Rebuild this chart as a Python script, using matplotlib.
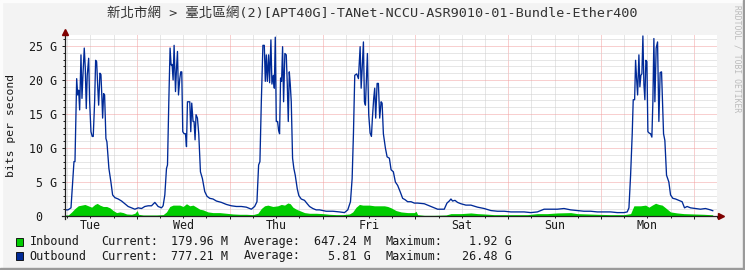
import matplotlib
matplotlib.use('Agg')
import matplotlib.pyplot as plt
from matplotlib.patches import Rectangle
import matplotlib.transforms as mtransforms

W, H = 745, 270

title = '新北市網 > 臺北區網(2)[APT40G]-TANet-NCCU-ASR9010-01-Bundle-Ether400'
y_label = 'bits per second'
watermark = 'RRDTOOL / TOBI OETIKER'

day_names = ['Tue', 'Wed', 'Thu', 'Fri', 'Sat', 'Sun', 'Mon']
day_noon_hours = [-12, 12, 36, 60, 84, 108, 132]
midnight_hours = [0, 24, 48, 72, 96, 120, 144]
six_hour_marks = [-18, -12, -6, 6, 12, 18, 30, 36, 42, 54, 60, 66, 78, 84, 90,
                  102, 108, 114, 126, 132, 138, 150]

y_ticks = [0, 5, 10, 15, 20, 25]
y_tick_labels = ['0\u00a0\u00a0', '5 G', '10 G', '15 G', '20 G', '25 G']
y_minor = [1, 2, 3, 4, 6, 7, 8, 9, 11, 12, 13, 14, 16, 17, 18, 19, 21, 22, 23, 24, 26]

# time in hours relative to Wednesday 00:00, values in Gbit/s
out_hours = [-18.58, -17.81, -17.03, -16.59, -16.26, -16.0, -15.56, -15.30, -15.05, -14.79,
             -14.45, -14.19, -13.94, -13.60, -13.34, -13.08, -12.83, -12.46, -12.21, -11.87,
             -11.54, -11.28, -10.92, -10.66, -10.40, -10.14, -9.88, -9.55, -9.29, -9.03,
             -8.85, -8.59, -8.34, -8.0, -7.74, -7.23, -6.71, -6.27, -5.68, -4.83,
             -3.95, -3.10, -2.25, -1.37, -0.52, 0.34, 1.21, 2.06, 2.92, 3.79,
             4.65, 5.50, 6.37, 6.79, 7.23, 7.66, 7.92, 8.26, 8.59, 8.85,
             9.11, 9.37, 9.63, 9.99, 10.25, 10.50, 10.76, 11.10, 11.35, 11.61,
             11.87, 12.21, 12.57, 12.83, 13.08, 13.68, 13.94, 14.19, 14.53, 14.79,
             15.05, 15.30, 15.66, 16.0, 16.44, 16.95, 17.55, 18.14, 18.84, 19.69,
             20.57, 21.86, 23.15, 24.44, 25.73, 27.02, 28.31, 29.60, 30.45, 31.05,
             31.48, 31.82, 32.18, 32.59, 32.95, 33.21, 33.47, 33.73, 34.06, 34.32,
             34.66, 34.92, 35.28, 35.54, 35.79, 36.05, 36.39, 36.65, 36.90, 37.16,
             37.42, 37.68, 37.94, 38.27, 38.63, 38.89, 39.15, 39.41, 39.66, 39.92,
             40.26, 40.59, 40.95, 41.47, 41.88, 42.50, 43.35, 44.05, 44.65, 45.50,
             46.37, 47.23, 48.95, 50.66, 52.39, 53.68, 54.53, 55.23, 55.66, 56.0,
             56.34, 56.85, 57.29, 57.73, 57.99, 58.25, 58.58, 58.84, 59.10, 59.35,
             59.61, 59.95, 60.31, 60.65, 60.90, 61.24, 61.50, 61.75, 62.12, 62.45,
             62.79, 63.15, 63.41, 63.74, 64.26, 64.70, 65.29, 65.73, 66.32, 66.84,
             67.43, 68.13, 68.72, 69.34, 70.01, 70.89, 71.74, 72.59, 74.32, 76.05,
             77.76, 79.48, 80.18, 80.77, 81.21, 81.63, 82.25, 82.92, 83.79, 85.08,
             86.37, 88.08, 89.81, 91.54, 93.24, 94.97, 96.70, 98.40, 100.13, 101.86,
             103.56, 105.29, 107.02, 108.72, 110.45, 112.18, 113.88, 115.61, 117.34, 119.05,
             120.77, 122.50, 124.21, 125.94, 126.79, 127.23, 127.66, 128.08, 128.34, 128.70,
             128.95, 129.21, 129.47, 129.81, 130.06, 130.32, 130.58, 130.84, 131.10, 131.35,
             131.61, 131.87, 132.13, 132.46, 132.82, 133.16, 133.42, 133.68, 133.94, 134.27,
             134.63, 134.97, 135.30, 135.66, 135.92, 136.18, 136.52, 136.95, 137.55, 137.99,
             138.58, 139.28, 140.13, 140.98, 141.60, 142.27, 143.15, 144.44, 145.73, 147.02,
             148.31, 148.90]
out_gbps = [0.9, 0.9, 1.2, 5.0, 8.0, 8.0, 20.2, 17.8, 18.5, 15.6,
            23.7, 17.3, 20.7, 24.7, 21.8, 15.8, 20.7, 23.2, 16.8, 12.4,
            11.7, 11.7, 16.8, 22.9, 22.7, 19.3, 16.3, 21.0, 20.8, 17.3,
            14.4, 18.0, 17.8, 11.4, 10.9, 7.0, 5.0, 3.1, 2.7, 2.5,
            2.2, 1.8, 1.4, 1.2, 1.0, 1.2, 1.1, 1.4, 1.5, 1.5,
            2.0, 1.4, 1.2, 1.5, 3.1, 7.0, 7.5, 16.8, 24.7, 22.2,
            22.3, 20.0, 25.1, 18.3, 21.7, 24.2, 17.8, 20.2, 21.2, 21.2,
            12.4, 12.1, 12.1, 10.2, 16.8, 16.8, 12.4, 16.6, 13.9, 13.9,
            11.2, 14.9, 14.4, 12.1, 6.5, 5.5, 3.6, 2.9, 2.6, 2.5,
            2.2, 2.0, 1.7, 1.5, 1.4, 1.4, 1.3, 1.0, 1.4, 2.1,
            7.5, 8.0, 16.8, 25.1, 25.1, 19.8, 23.7, 19.8, 23.7, 19.6,
            25.9, 19.4, 20.7, 18.8, 26.3, 13.9, 13.9, 12.6, 12.1, 20.3,
            19.8, 24.9, 16.8, 23.9, 23.7, 19.4, 13.9, 21.2, 19.4, 16.8,
            8.5, 7.0, 6.0, 4.0, 3.0, 2.5, 2.3, 1.8, 1.4, 1.1,
            0.9, 0.9, 0.7, 0.7, 0.6, 0.5, 0.9, 2.1, 5.5, 12.1,
            20.7, 20.9, 20.2, 24.9, 18.8, 21.6, 25.6, 16.8, 16.3, 20.2,
            23.9, 14.9, 12.2, 11.7, 14.4, 17.3, 18.8, 14.4, 19.5, 19.5,
            14.4, 16.8, 16.6, 12.1, 10.0, 8.7, 8.5, 6.8, 6.5, 5.0,
            4.5, 3.5, 2.6, 2.4, 2.1, 2.1, 1.9, 1.9, 1.8, 1.4,
            1.0, 1.0, 1.9, 2.2, 2.5, 2.2, 2.3, 2.0, 1.8, 1.6,
            1.6, 1.3, 1.1, 0.8, 0.7, 0.7, 0.6, 0.6, 0.6, 0.5,
            0.6, 1.0, 1.0, 1.0, 1.1, 0.9, 0.8, 0.7, 0.7, 0.6,
            0.6, 0.6, 0.5, 0.5, 0.6, 1.2, 6.0, 12.1, 17.1, 17.1,
            22.9, 20.2, 17.8, 23.7, 19.0, 20.7, 20.9, 26.48, 19.4, 17.1,
            22.9, 22.7, 12.4, 12.2, 12.1, 11.6, 16.8, 26.1, 16.8, 24.7,
            25.6, 13.9, 21.1, 21.2, 16.8, 12.1, 11.1, 6.0, 5.0, 3.1,
            2.6, 2.5, 2.3, 2.1, 1.2, 1.4, 1.2, 1.1, 1.0, 1.1,
            0.9, 0.78]

in_hours = [-18.58, -17.73, -16.85, -16.0, -15.15, -14.27, -13.42, -12.57, -11.69, -10.84,
            -10.25, -9.55, -8.70, -7.82, -6.97, -6.12, -5.24, -4.39, -3.54, -2.66,
            -1.37, -0.52, 0.08, 0.44, 1.63, 3.35, 5.08, 6.79, 7.66, 8.52,
            9.37, 10.25, 11.10, 11.95, 12.83, 13.68, 14.53, 15.41, 16.26, 17.11,
            18.40, 19.69, 21.42, 23.15, 24.85, 26.58, 28.31, 30.01, 31.30, 32.18,
            33.03, 33.88, 35.17, 36.46, 37.34, 38.19, 39.05, 39.66, 40.34, 41.21,
            42.06, 43.35, 44.65, 46.37, 48.08, 49.81, 51.53, 53.24, 54.97, 55.82,
            56.70, 57.55, 58.40, 59.28, 60.13, 61.42, 62.71, 64.0, 64.85, 65.73,
            67.02, 68.31, 70.01, 71.74, 72.18, 72.59, 74.32, 76.90, 79.92, 81.21,
            83.79, 86.37, 88.08, 89.81, 92.39, 94.97, 98.40, 100.98, 103.56, 106.14,
            108.72, 112.18, 113.88, 116.46, 119.05, 122.50, 125.94, 127.66, 128.52, 130.24,
            131.54, 132.39, 133.24, 134.12, 134.97, 135.82, 136.70, 137.99, 139.69, 141.42,
            144.0, 146.58, 148.90]
in_gbps = [0.15, 0.15, 0.6, 1.1, 1.5, 1.6, 1.7, 1.5, 1.3, 1.7,
           1.85, 1.6, 1.4, 1.4, 1.2, 0.8, 0.5, 0.6, 0.5, 0.3,
           0.25, 0.4, 0.8, 0.25, 0.15, 0.15, 0.15, 0.2, 0.6, 1.4,
           1.6, 1.6, 1.6, 1.4, 1.8, 1.5, 1.6, 1.3, 1.0, 0.9,
           0.6, 0.5, 0.5, 0.4, 0.3, 0.25, 0.25, 0.2, 0.4, 1.1,
           1.5, 1.6, 1.4, 1.5, 1.7, 1.6, 1.92, 1.8, 1.3, 1.0,
           0.8, 0.5, 0.4, 0.4, 0.35, 0.25, 0.2, 0.2, 0.3, 0.6,
           1.3, 1.7, 1.6, 1.6, 1.6, 1.5, 1.5, 1.5, 1.4, 1.2,
           0.8, 0.6, 0.5, 0.5, 0.7, 0.2, 0.1, 0.1, 0.15, 0.35,
           0.35, 0.45, 0.35, 0.3, 0.2, 0.2, 0.2, 0.2, 0.35, 0.35,
           0.45, 0.5, 0.35, 0.3, 0.25, 0.2, 0.2, 0.35, 1.5, 1.5,
           1.6, 1.3, 1.6, 1.87, 1.7, 1.6, 1.2, 0.6, 0.45, 0.35,
           0.3, 0.25, 0.18]

legend_names = ['Inbound', 'Outbound']
legend_colors = ['#00CC00', '#002A97']
legend_current = ['179.96 M', '777.21 M']
legend_average = ['647.24 M', '5.81 G']
legend_maximum = ['1.92 G', '26.48 G']

MONO = 'DejaVu Sans Mono'
plt.rcParams['font.family'] = [MONO, 'Noto Sans CJK TC']
TXT = '#1a1a1a'


def fx(px):
    return px / W


def fy(py):
    return 1 - py / H


fig = plt.figure(figsize=(W / 100, H / 100), dpi=100, facecolor='#F3F3F3')

# frame shading
fig.patches.append(Rectangle((0, fy(2)), 1, 2 / H, transform=fig.transFigure, color='#FCFCFC', zorder=0))
fig.patches.append(Rectangle((0, 0), 2 / W, 1, transform=fig.transFigure, color='#FCFCFC', zorder=0))
fig.patches.append(Rectangle((0, 0), 1, 2 / H, transform=fig.transFigure, color='#9A9A9A', zorder=0))
fig.patches.append(Rectangle((fx(W - 2), 0), 2 / W, 1, transform=fig.transFigure, color='#9A9A9A', zorder=0))

ax_l, ax_r, ax_t, ax_b = 65, 717, 35, 216
ax = fig.add_axes([fx(ax_l), fy(ax_b), (ax_r - ax_l) / W, (ax_b - ax_t) / H])
ax.set_facecolor('white')
ax.set_xlim(-18.58, 149.68)
ax.set_ylim(0, 26.62)

for s in ax.spines.values():
    s.set_visible(False)

ax.set_yticks(y_ticks)
ax.set_yticklabels(y_tick_labels, fontsize=8.4, color=TXT, family=MONO)
ax.set_yticks(y_minor, minor=True)
ax.set_xticks(midnight_hours)
ax.set_xticklabels([])
ax.set_xticks(six_hour_marks, minor=True)

dot = (0, (1, 1))
ax.grid(which='minor', color='#CFCFCF', lw=0.72, linestyle=dot)
ax.grid(which='major', color='#F2A0A0', lw=0.72, linestyle=dot)
ax.set_axisbelow(True)
ax.tick_params(which='major', length=2.2, width=0.72, color='#202020', pad=3.5)
ax.tick_params(which='minor', length=1.4, width=0.72, color='#202020')

# data
ax.fill_between(in_hours, in_gbps, 0, color=legend_colors[0], lw=0, zorder=3)
ax.plot(out_hours, out_gbps, color=legend_colors[1], lw=0.95, zorder=4)

# axes lines with arrows
wpx, hpx = ax_r - ax_l, ax_b - ax_t
ax.plot([-3 / wpx, 1 + 3 / wpx], [0, 0], color='#202020', lw=0.9, transform=ax.transAxes, clip_on=False, zorder=5)
ax.plot([0, 0], [-3 / hpx, 1 + 2 / hpx], color='#202020', lw=0.9, transform=ax.transAxes, clip_on=False, zorder=5)
ax.plot([1 + 3.5 / wpx], [0], marker='>', ms=4.2, color='#7F0000', mec='#7F0000', transform=ax.transAxes,
        clip_on=False, zorder=6)
ax.plot([0], [1 + 3.5 / hpx], marker='^', ms=4.2, color='#7F0000', mec='#7F0000', transform=ax.transAxes,
        clip_on=False, zorder=6)

# day labels
trans = mtransforms.blended_transform_factory(ax.transData, ax.transAxes)
for h, name in zip(day_noon_hours, day_names):
    ax.text(h, -(225.5 - ax_b) / hpx, name, transform=trans, ha='center', va='center',
            fontsize=8.4, color=TXT, family=MONO)

# title and labels
fig.text(fx(372.5), fy(14.5), title, ha='center', va='center', fontsize=9.7, color='#333333',
         family=[MONO, 'Noto Sans CJK TC'])
fig.text(fx(11.5), fy(125.5), y_label, rotation=90, ha='center', va='center', fontsize=8.2,
         color=TXT, family=MONO)
fig.text(fx(737), fy(59), watermark, rotation=270, ha='center', va='center', fontsize=5.8,
         color='#BBBBBB', family=MONO)

# legend
rows_y = [241.5, 256]
for i in range(2):
    y = rows_y[i]
    fig.patches.append(Rectangle((fx(15.5), fy(y + 4)), 7.5 / W, 8 / H, transform=fig.transFigure,
                                 facecolor=legend_colors[i], edgecolor='#000000', lw=0.6))
    fig.text(fx(29.5), fy(y), legend_names[i], ha='left', va='center', fontsize=8.5, color=TXT, family=MONO)
    fig.text(fx(101.5), fy(y), 'Current:', ha='left', va='center', fontsize=8.5, color=TXT, family=MONO)
    fig.text(fx(228), fy(y), legend_current[i], ha='right', va='center', fontsize=8.5, color=TXT, family=MONO)
    fig.text(fx(243.5), fy(y), 'Average:', ha='left', va='center', fontsize=8.5, color=TXT, family=MONO)
    fig.text(fx(370.5), fy(y), legend_average[i], ha='right', va='center', fontsize=8.5, color=TXT, family=MONO)
    fig.text(fx(385.5), fy(y), 'Maximum:', ha='left', va='center', fontsize=8.5, color=TXT, family=MONO)
    fig.text(fx(511.5), fy(y), legend_maximum[i], ha='right', va='center', fontsize=8.5, color=TXT, family=MONO)

fig.savefig('out.png', dpi=100, facecolor=fig.get_facecolor())
